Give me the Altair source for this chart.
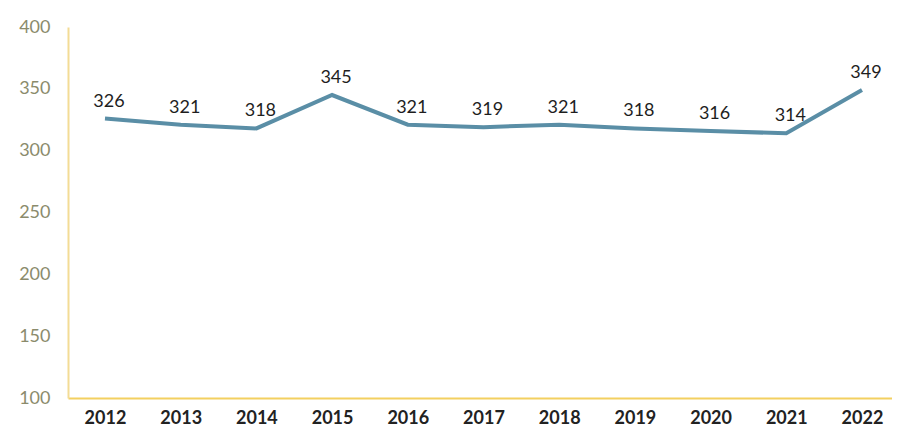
import altair as alt
import pandas as pd

years = ["2012", "2013", "2014", "2015", "2016", "2017", "2018", "2019", "2020", "2021", "2022"]
values = [326, 321, 318, 345, 321, 319, 321, 318, 316, 314, 349]

df = pd.DataFrame({"year": years, "value": values})

x = alt.X(
    "year:O",
    sort=years,
    scale=alt.Scale(type="point", padding=0.4425, align=0.552),
    axis=alt.Axis(
        title=None, labelAngle=0, ticks=False, grid=False,
        labelFont="Lato", labelFontSize=18, labelFontWeight="bold",
        labelColor="#222222", labelPadding=11,
        domainColor="#f3d060", domainWidth=2,
    ),
)
y = alt.Y(
    "value:Q",
    scale=alt.Scale(domain=[100, 400], nice=False, zero=False),
    axis=alt.Axis(
        title=None, values=[100, 150, 200, 250, 300, 350, 400], ticks=False, grid=False,
        labelFont="Lato", labelFontSize=18, labelColor="#8b8b6c", labelPadding=18,
        domainColor="#f3dc95", domainWidth=2,
    ),
)

base = alt.Chart(df).encode(x=x, y=y)

line = base.mark_line(color="#5a8ea6", strokeWidth=4)
labels = base.mark_text(
    dy=-17, dx=4, font="Lato", fontSize=18, color="#1e1e1e"
).encode(text="value:Q")

chart = (line + labels).properties(
    width=824,
    height=371,
    padding={"left": 60, "top": 19, "right": 0, "bottom": 33},
    autosize=alt.AutoSizeParams(type="none"),
).configure_view(stroke=None)

chart.save("out.html", embed_options={"renderer": "svg", "actions": False})
